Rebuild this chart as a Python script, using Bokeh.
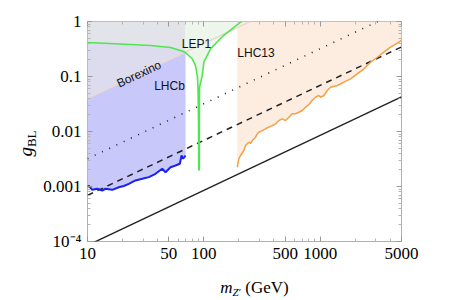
import numpy as np
from bokeh.plotting import figure
from bokeh.models import LogAxis, FixedTicker, Label, Range1d, Div
from bokeh.layouts import column, row
from bokeh.embed import file_html
from bokeh.resources import INLINE

# ---------------- data ----------------
x_ticks = [10, 50, 100, 500, 1000, 5000]
x_tick_labels = ["10", "50", "100", "500", "1000", "5000"]
x_minor = [20, 30, 40, 60, 70, 80, 90, 200, 300, 400, 600, 700, 800, 900,
           2000, 3000, 4000]
y_ticks = [1e-4, 1e-3, 1e-2, 1e-1, 1.0]
y_tick_labels = ["10\u207b\u2074", "0.001", "0.01", "0.1", "1"]
y_minor = [k * 10.0 ** e for e in (-4, -3, -2, -1) for k in range(2, 10)]

# LHCb limit (blue)
lhcb_m = [10.0, 10.26, 10.97, 12.12, 13.38, 14.28, 16.31, 18.58, 20.5, 22.65,
          25.86, 29.53, 33.66, 38.43, 43.88, 46.85, 51.71, 57.1, 62.2, 64.3,
          66.5, 69.6]
lhcb_g = [9.7e-4, 1.04e-3, 8.7e-4, 9.1e-4, 8.46e-4, 9.1e-4, 8.7e-4, 9.7e-4,
          1.02e-3, 1.12e-3, 1.29e-3, 1.38e-3, 1.48e-3, 1.7e-3, 2.1e-3, 1.82e-3,
          2.24e-3, 2.41e-3, 2.59e-3, 3.66e-3, 3.19e-3, 3.66e-3]

# LEP1 limit (green)
lep_m = [10, 19.2, 34.8, 51.7, 66.9, 69.6, 79.4, 84.8, 87.8, 89.1, 90.0, 90.4,
         91.5, 91.5, 91.8, 96.9, 100, 114.2, 147.6, 206.8, 211]
lep_g = [0.415, 0.39, 0.366, 0.337, 0.285, 0.27, 0.21, 0.158, 0.104, 0.063,
         0.0158, 0.002, 0.002, 0.0158, 0.063, 0.104, 0.182, 0.319, 0.556, 0.97,
         1.0]

# LHC13 limit (orange)
lhc_m = [193.8, 200, 206.8, 220.8, 228.3, 243.8, 252, 260.8, 278.3, 287.9,
         297.2, 317.9, 339.3, 362.2, 387.4, 413.5, 441.5, 472.2, 504.1, 538.2,
         575.6, 614.5, 656.1, 701.6, 749.1, 799.6, 855.2, 912.9, 974.6, 1008,
         1076, 1151, 1229, 1403, 1599, 1826, 2084, 2375, 2712, 3097, 3529,
         4030, 4600, 5000]
lhc_g = [0.00224, 0.00319, 0.00366, 0.00452, 0.00557, 0.00639, 0.0061, 0.00686,
         0.00788, 0.00908, 0.00971, 0.0104, 0.0112, 0.012, 0.0128, 0.0138,
         0.0158, 0.017, 0.0158, 0.0182, 0.021, 0.021, 0.0224, 0.0241, 0.0277,
         0.031, 0.037, 0.042, 0.0451, 0.042, 0.0451, 0.0556, 0.0639, 0.0686,
         0.0788, 0.0908, 0.112, 0.138, 0.182, 0.224, 0.277, 0.341, 0.403,
         0.452]

# Borexino boundary
bx_m = [10, 250]
bx_g = [0.04, 1.0]

# reference lines
dot_m = [10, 5000]
dot_g = [0.0032, 1.6]
dash_m = [10, 5000]
dash_g = [6.9e-4, 0.345]
solid_m = [10, 5000]
solid_g = [8.5e-5, 0.0425]


def bx_at(m):
    return float(10 ** np.interp(np.log10(m), np.log10(bx_m), np.log10(bx_g)))


# ---------------- figure ----------------
p = figure(width=406, height=270, x_axis_type="log", y_axis_type="log",
           x_range=Range1d(10, 5000), y_range=Range1d(1e-4, 1),
           output_backend="svg", toolbar_location=None,
           min_border_left=47, min_border_right=45, min_border_top=21,
           min_border_bottom=29)
p.grid.visible = False
p.outline_line_color = "#b0b0b0"
p.outline_line_width = 1
p.background_fill_color = "white"

m_end = lhcb_m[-1]
i_end = lep_m.index(m_end)
top = y_ticks[-1]

# gray region (above green, LHCb mass range)
p.patch(lep_m[:i_end + 1] + [m_end, lep_m[0]],
        lep_g[:i_end + 1] + [top, top], color="#e2e4ea", line_color=None)
# Borexino region (between Borexino line and green)
p.patch([bx_m[0], m_end] + lep_m[:i_end + 1][::-1],
        [bx_at(bx_m[0]), bx_at(m_end)] + lep_g[:i_end + 1][::-1],
        color="#dddcef", line_color=None)
# LHCb region
p.patch(lhcb_m + [m_end, lhcb_m[0]],
        lhcb_g + [bx_at(m_end), bx_at(lhcb_m[0])],
        color="#c8c8fb", line_color=None)
# LEP1 region
p.patch(lep_m[i_end:] + [lep_m[i_end]], lep_g[i_end:] + [top],
        color="#edf6ea", line_color=None)
# LHC13 region
p.patch(lhc_m + [lhc_m[-1], lhc_m[0]], lhc_g + [top, top],
        color="#fdede0", line_color=None)

# Borexino boundary line
p.line(bx_m, bx_g, line_color="#ead8d2", line_width=1.5)

# reference lines
p.line(dot_m, dot_g, line_color="#222222", line_width=1.6, line_dash="1 7")
p.line(dash_m, dash_g, line_color="#222222", line_width=1.5, line_dash="6 5")
p.line(solid_m, solid_g, line_color="#222222", line_width=1.4)

# limit curves
p.line(lhcb_m, lhcb_g, line_color="#1a22f0", line_width=2)
p.line(lep_m, lep_g, line_color="#50e650", line_width=1.6)
p.line(lhc_m, lhc_g, line_color="#f5a045", line_width=1.5)

# ---------------- axes ----------------
xt = FixedTicker(ticks=x_ticks, minor_ticks=x_minor)
yt = FixedTicker(ticks=y_ticks, minor_ticks=y_minor)


def style(ax, show):
    ax.axis_line_color = None
    ax.major_tick_in = 5
    ax.major_tick_out = 0
    ax.minor_tick_in = 3
    ax.minor_tick_out = 0
    ax.major_tick_line_color = "#9a9a9a"
    ax.minor_tick_line_color = "#b5b5b5"
    if show:
        ax.major_label_text_font = "Liberation Serif"
        ax.major_label_text_font_size = "17px"
        ax.major_label_text_color = "black"
        ax.major_label_standoff = 6
    else:
        ax.major_label_text_font_size = "0px"
        ax.major_label_text_color = None
        ax.major_label_standoff = 0


p.xaxis.ticker = xt
p.yaxis.ticker = yt
p.xaxis.major_label_overrides = {float(t): s for t, s in zip(x_ticks, x_tick_labels)}
p.yaxis.major_label_overrides = {float(t): s for t, s in zip(y_ticks, y_tick_labels)}
style(p.xaxis[0], True)
style(p.yaxis[0], True)

ax_top = LogAxis(ticker=xt)
style(ax_top, False)
p.add_layout(ax_top, "above")
ax_right = LogAxis(ticker=yt)
style(ax_right, False)
p.add_layout(ax_right, "right")

# ---------------- region labels ----------------
sans = "Liberation Sans"
for txt, xm, yg, ang in [("Borexino", 27.7, 0.111, 0.436),
                         ("LHCb", 50.7, 0.0658, 0.0),
                         ("LEP1", 86.5, 0.382, 0.0),
                         ("LHC13", 281.0, 0.2676, 0.0)]:
    p.add_layout(Label(x=xm, y=yg, text=txt, angle=ang, text_font=sans,
                       text_font_size="12px", text_color="#111111",
                       text_align="center", text_baseline="middle"))

# ---------------- axis titles (HTML) ----------------
serif = "'Liberation Serif', serif"
ylab = Div(width=40, height=270, margin=(0, 0, 0, 0), text=(
    '<div style="width:40px;height:270px;box-sizing:border-box;'
    'padding-left:11px;padding-top:16px;display:flex;align-items:center;'
    'justify-content:center;">'
    '<div style="transform:rotate(-90deg);white-space:nowrap;'
    f'font-family:{serif};font-size:19px;line-height:1;color:black;">'
    '<i>g</i><span style="font-size:13px;position:relative;top:4px;">BL</span>'
    '</div></div>'))
xlab = Div(width=446, height=30, margin=(0, 0, 0, 0), text=(
    '<div style="width:446px;height:30px;box-sizing:border-box;'
    'padding-left:63px;padding-top:9px;text-align:center;white-space:nowrap;'
    f'font-family:{serif};font-size:17px;line-height:1;color:black;">'
    '<i>m</i><span style="font-size:11px;position:relative;top:3px;">'
    '<i>Z</i>\u2032</span> (GeV)</div>'))

layout = column(row(ylab, p, spacing=0), xlab, spacing=0)

open("out.html", "w").write(file_html(layout, INLINE))
